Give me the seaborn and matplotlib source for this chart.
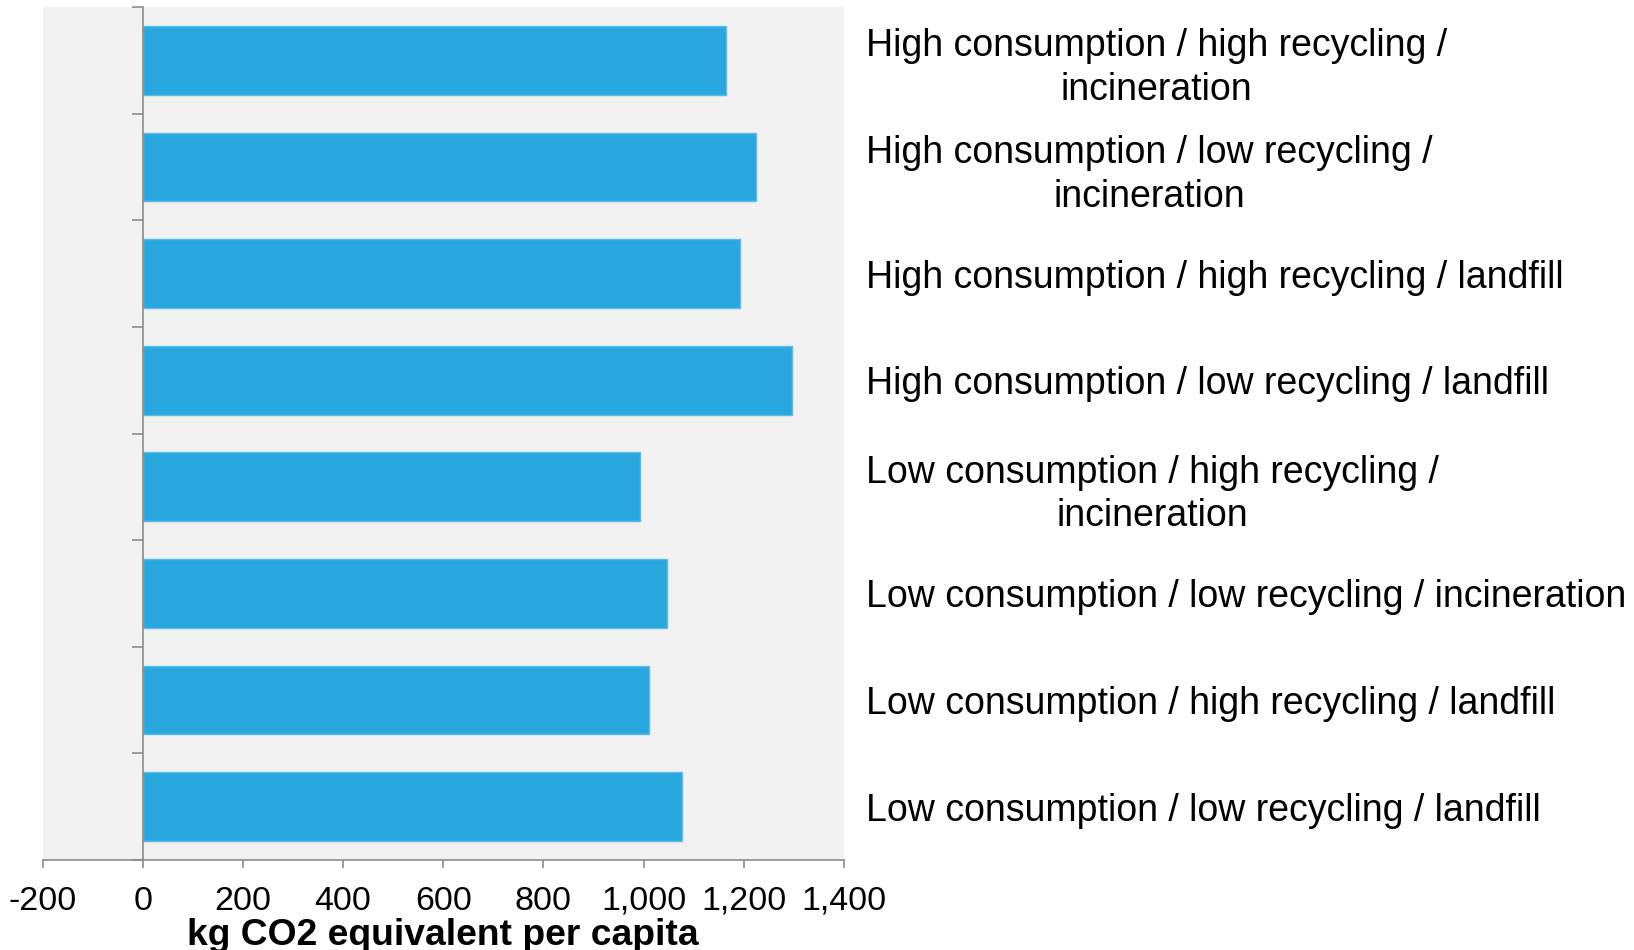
import matplotlib
matplotlib.use("Agg")
import matplotlib.pyplot as plt
import seaborn as sns
import pandas as pd
import numpy as np

categories = [
    "High consumption / high recycling /\nincineration",
    "High consumption / low recycling /\nincineration",
    "High consumption / high recycling / landfill",
    "High consumption / low recycling / landfill",
    "Low consumption / high recycling /\nincineration",
    "Low consumption / low recycling / incineration",
    "Low consumption / high recycling / landfill",
    "Low consumption / low recycling / landfill",
]
values = [1165, 1225, 1193, 1297, 993, 1046, 1011, 1077]
x_ticks = [-200, 0, 200, 400, 600, 800, 1000, 1200, 1400]
x_tick_labels = ["-200", "0", "200", "400", "600", "800", "1,000", "1,200", "1,400"]
x_label = "kg CO2 equivalent per capita"

sns.set_theme(style="white")
plt.rcParams["font.family"] = ["Liberation Sans", "DejaVu Sans"]

df = pd.DataFrame({"cat": categories, "val": values})

fig = plt.figure(figsize=(16.34, 9.5), dpi=100)
ax = fig.add_axes([0.0261, 0.0947, 0.4904, 0.8979])
ax.set_facecolor("#f2f2f2")

sns.barplot(data=df, y="cat", x="val", orient="h", color="#29a8e0",
            saturation=1, width=0.645, edgecolor="#5cbde9", linewidth=1, ax=ax)

ax.set_xlim(-200, 1400)
ax.set_ylim(len(categories) - 0.5, -0.5)

gray = "#8c8c8c"
for s in ["top", "right"]:
    ax.spines[s].set_visible(False)
ax.spines["left"].set_position(("data", 0))
ax.spines["left"].set_color(gray)
ax.spines["left"].set_linewidth(1.2)
ax.spines["bottom"].set_color(gray)
ax.spines["bottom"].set_linewidth(1.2)

ax.set_yticks(np.arange(-0.5, len(categories) - 0.4, 1.0))
ax.set_yticklabels([])
ax.tick_params(axis="y", direction="out", length=8, width=1.2, color=gray, left=True)
ax.set_ylabel("")

ax.set_xticks(x_ticks)
ax.set_xticklabels(x_tick_labels)
ax.tick_params(axis="x", direction="out", length=6, width=1.2, color=gray, bottom=True,
               labelsize=24.5, pad=12.5, labelcolor="black")
ax.set_xlabel(x_label, fontsize=26.8, fontweight="bold", labelpad=1, color="black")

# category labels on the right
ax2 = ax.twinx()
ax2.set_ylim(ax.get_ylim())
ax2.set_yticks(np.arange(len(categories)))
ax2.set_yticklabels(categories, fontsize=27, multialignment="center", color="black",
                    linespacing=1.27)
ax2.tick_params(axis="y", length=0, pad=16)
for s in ax2.spines.values():
    s.set_visible(False)
ax2.grid(False)

fig.savefig("out.png", dpi=100, facecolor="white")
